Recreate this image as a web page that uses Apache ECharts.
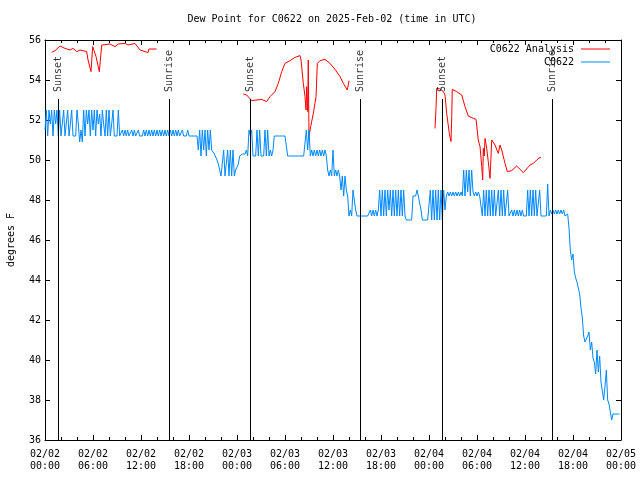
<!DOCTYPE html>
<html>
<head>
<meta charset="utf-8">
<script src="https://cdn.jsdelivr.net/npm/echarts@6/dist/echarts.min.js"></script>
<style>html,body{margin:0;padding:0;background:#fff}#c{width:640px;height:480px}</style>
</head>
<body>
<div id="c"></div>
<script>
// ---- Data ----
// x positions are hours since 02/02 00:00 UTC
const xTickLabels = ['02/02\n00:00','02/02\n06:00','02/02\n12:00','02/02\n18:00','02/03\n00:00','02/03\n06:00','02/03\n12:00','02/03\n18:00','02/04\n00:00','02/04\n06:00','02/04\n12:00','02/04\n18:00','02/05\n00:00'];

// Observations (C0622), one value every 10 minutes
const obsStartHour = 0;
const obsStepMinutes = 10;
const obsDay1 = [
 51.5,52.5,51.2,52.5,51.8,52.5, 51.2,52.5,51.8,52.5,51.2,52.5, 51.2,51.2,52.5,51.2,51.2,52.5, 51.2,51.8,52.5,51.2,51.2,51.2,
 52.5,51.8,50.9,51.5,50.9,52.5, 51.2,52.5,51.8,52.5,51.2,52.5, 51.5,52.5,51.2,52.5,51.8,52.3, 51.2,52.5,51.8,51.2,52.5,51.2,
 52.5,51.2,51.8,52.5,51.2,51.2, 51.2,52.5,51.2,51.2,51.5,51.2, 51.5,51.2,51.5,51.2,51.2,51.5, 51.2,51.5,51.2,51.2,51.5,51.2,
 51.2,51.2,51.5,51.2,51.5,51.2, 51.5,51.2,51.5,51.2,51.5,51.2, 51.5,51.2,51.5,51.2,51.5,51.2, 51.5,51.2,51.5,51.2,51.5,51.2,
 51.5,51.2,51.5,51.2,51.5,51.2, 51.2,51.5,51.2,51.2,51.2,51.5, 51.2,51.2,51.2,51.2,51.2,51.2, 51.2,50.5,51.5,50.2,51.5,50.5,
 51.5,50.2,51.5,50.5,51.5,50.5, 50.5,50.3,50.2,50.0,49.8,49.5, 49.2,49.2,50.5,49.2,49.2,50.5, 49.2,50.5,49.2,50.5,49.2,49.5
];
const obsDay2 = [
 49.5,49.8,50.2,50.3,50.3,50.3, 50.3,50.5,50.2,51.5,51.2,51.5, 50.2,50.2,50.2,51.5,50.2,51.5, 50.2,50.2,50.2,51.5,50.2,51.5,
 50.2,50.5,50.2,50.5,51.2,51.2, 51.2,51.2,51.2,51.2,51.2,51.2, 51.2,51.2,50.2,50.2,50.2,50.2, 50.2,50.2,50.2,50.2,50.2,50.2,
 50.2,50.2,50.2,50.2,51.5,50.5, 51.5,50.2,50.5,50.2,50.5,50.2, 50.5,50.2,50.5,50.2,50.5,50.2, 50.5,50.2,49.5,49.2,49.5,49.2,
 50.5,49.2,49.5,49.2,49.5,49.2, 48.5,49.2,48.2,49.2,48.5,48.2, 47.2,47.5,47.2,48.5,48.5,47.5, 47.2,47.2,47.2,47.2,47.2,47.2,
 47.2,47.2,47.2,47.2,47.5,47.2, 47.5,47.2,47.5,47.2,47.5,48.5, 47.2,48.5,47.2,48.5,47.2,48.5, 47.5,48.5,47.2,48.5,47.2,48.5,
 47.2,48.5,47.2,48.5,47.2,48.5, 47.2,47.0,47.0,47.0,47.0,47.0, 48.2,48.2,48.2,48.5,48.2,48.2, 47.5,47.0,47.0,47.0,47.0,47.0
];
const obsDay3 = [
 47.0,48.5,47.0,48.5,47.0,48.5, 47.0,48.5,47.0,48.5,47.0,48.5, 47.5,48.2,48.4,48.2,48.4,48.2, 48.4,48.2,48.4,48.2,48.4,48.2,
 48.4,48.2,49.5,48.2,49.5,48.4, 49.5,48.2,49.5,48.4,48.2,48.4, 48.2,48.4,48.2,48.2,47.2,48.5, 47.2,48.5,47.2,48.5,47.2,48.5,
 47.2,48.5,47.2,47.2,48.5,47.2, 48.5,47.2,48.5,47.2,47.2,48.5, 47.2,47.2,47.5,47.2,47.5,47.2, 47.5,47.2,47.5,47.2,47.5,47.2,
 47.2,47.2,48.5,47.2,48.5,47.2, 48.5,47.2,48.5,47.2,47.2,48.5, 47.2,47.2,47.2,47.2,47.2,48.8, 47.2,47.5,47.3,47.5,47.3,47.5,
 47.3,47.5,47.3,47.5,47.3,47.5, 47.2,47.2,47.3,46.6,45.5,45.0, 45.3,44.4,44.1,43.9,43.9,43.3, 42.6,42.1,41.2,40.9,40.9,41.2,
 41.4,40.5,40.9,40.1,39.9,39.3, 40.5,39.4,40.2,38.9,38.9,38.0, 38.7,39.5,38.0,37.8,37.7,37.0, 37.3,37.3,37.3,37.3,37.3,37.3
];

// Analysis (C0622 Analysis): hours and values, null marks a gap
const anaHours = [
 0.84,1.25,1.88,2.5,3.13,3.5,3.96,4.38,5.21,5.38,5.75,5.96,6.16,6.38,6.79,7.09,8.13,8.75,9.16,10.0,10.38,11.25,11.88,12.88,13.0,13.96,
 null,
 24.79,25.0,25.21,25.84,26.04,27.09,27.71,28.13,28.75,29.16,29.59,30.0,30.63,31.25,31.88,32.0,32.29,32.5,32.63,32.71,32.84,32.91,33.0,33.21,33.54,33.88,34.04,34.38,35.0,35.63,36.25,36.88,37.29,37.79,38.0,
 null,
 48.75,48.88,48.96,49.38,49.79,50.0,50.21,50.54,50.75,50.84,50.91,51.46,52.09,52.5,52.91,53.54,53.88,54.16,54.38,54.59,54.71,54.79,54.91,55.0,55.21,55.41,55.63,55.75,55.84,56.25,56.66,56.88,57.09,57.5,57.79,58.34,58.96,59.79,60.63,61.04,61.46,61.88,62.0
];
const anaValues = [
 55.38,55.47,55.7,55.58,55.5,55.58,55.42,55.5,55.42,55.0,54.42,55.67,55.7,55.17,54.42,55.75,55.8,55.67,55.8,55.83,55.75,55.83,55.5,55.37,55.55,55.55,
 null,
 53.3,53.4,53.25,52.97,53.03,53.03,52.92,53.17,53.42,53.83,54.42,54.83,54.97,55.13,55.22,55.0,53.83,53.17,52.5,53.67,52.42,55.0,51.17,51.67,52.33,53.17,54.83,54.97,55.03,54.83,54.53,54.17,53.83,53.5,53.97,
 null,
 51.58,52.63,53.58,53.55,53.42,53.25,52.33,51.33,50.92,52.17,53.53,53.42,53.25,52.67,52.2,52.08,52.03,51.0,50.67,49.67,49.0,50.58,50.2,51.08,50.6,49.92,49.08,49.0,51.0,50.75,50.33,50.75,50.5,49.83,49.42,49.47,49.7,49.37,49.75,49.83,50.0,50.13,50.13
];

// Sunset / sunrise events (hours since 02/02 00:00 UTC)
const sunHours = [1.66, 15.54, 25.71, 39.45, 49.66, 63.41];
const sunLabels = ['Sunset','Sunrise','Sunset','Sunrise','Sunset','Sunrise'];
const sunLineTop = 53.05;
const sunLabelBase = 53.4;

// ---- Build ----
const obsAll = obsDay1.concat(obsDay2, obsDay3);
const obsData = obsAll.map((v, i) => [obsStartHour + i * obsStepMinutes / 60, v]);
const anaData = anaHours.map((h, i) => (h === null ? [null, null] : [h, anaValues[i]]));
const sunPoints = sunHours.map((h, i) => ({ value: [h, sunLabelBase], name: sunLabels[i] }));
const sunLines = sunHours.map(h => [{ coord: [h, 36] }, { coord: [h, sunLineTop] }]);

const MONO = '"DejaVu Sans Mono", "Liberation Mono", monospace';
const black = '#000';
const axisCommon = {
  type: 'value',
  axisLine: { show: true, onZero: false, lineStyle: { color: black, width: 1 } },
  axisTick: { show: true, inside: true, length: 5, lineStyle: { color: black, width: 1 } },
  splitLine: { show: false }
};

const chart = echarts.init(document.getElementById('c'), null, { renderer: 'canvas' });
chart.setOption({
  animation: false,
  backgroundColor: '#fff',
  title: {
    text: 'Dew Point for C0622 on 2025-Feb-02 (time in UTC)',
    left: 332, top: 14, textAlign: 'center', padding: 0,
    textStyle: { fontFamily: MONO, fontSize: 10, fontWeight: 'normal', color: black }
  },
  grid: { left: 45, right: 19, top: 40, bottom: 40, containLabel: false, outerBoundsMode: 'none' },
  legend: [
    { right: 30, top: 44, padding: 0, align: 'right', icon: 'rect', itemWidth: 29, itemHeight: 1,
      selectedMode: false, data: ['C0622 Analysis'],
      textStyle: { fontFamily: MONO, fontSize: 10, color: black, padding: [0, 2, 0, 0] } },
    { right: 30, top: 57, padding: 0, align: 'right', icon: 'rect', itemWidth: 29, itemHeight: 1,
      selectedMode: false, data: ['C0622'],
      textStyle: { fontFamily: MONO, fontSize: 10, color: black, padding: [0, 2, 0, 0] } }
  ],
  xAxis: [
    Object.assign({}, axisCommon, {
      position: 'bottom', min: 0, max: 72, interval: 6,
      minorTick: { show: true, splitNumber: 3, length: 3, lineStyle: { color: black } },
      axisLabel: {
        show: true, margin: 8, fontFamily: MONO, fontSize: 10, color: black, lineHeight: 12,
        hideOverlap: false, showMinLabel: true, showMaxLabel: true,
        formatter: v => xTickLabels[Math.round(v / 6)]
      }
    }),
    Object.assign({}, axisCommon, {
      position: 'top', min: 0, max: 72, interval: 6,
      minorTick: { show: true, splitNumber: 3, length: 3, lineStyle: { color: black } },
      axisLabel: { show: false }
    })
  ],
  yAxis: [
    Object.assign({}, axisCommon, {
      position: 'left', min: 36, max: 56, interval: 2,
      name: 'degrees F', nameLocation: 'middle', nameGap: 29,
      nameTextStyle: { fontFamily: MONO, fontSize: 10, color: black },
      axisLabel: { show: true, margin: 4, fontFamily: MONO, fontSize: 10, color: black }
    }),
    Object.assign({}, axisCommon, {
      position: 'right', min: 36, max: 56, interval: 2,
      axisLabel: { show: false }
    })
  ],
  series: [
    {
      name: 'C0622 Analysis', type: 'line', xAxisIndex: 0, yAxisIndex: 0,
      data: anaData, showSymbol: false, symbol: 'none', connectNulls: false,
      lineStyle: { color: '#ff0000', width: 1 }, itemStyle: { color: '#ff0000' }, z: 3
    },
    {
      name: 'C0622', type: 'line', xAxisIndex: 0, yAxisIndex: 0,
      data: obsData, showSymbol: false, symbol: 'none',
      lineStyle: { color: '#0088ff', width: 1 }, itemStyle: { color: '#0088ff' }, z: 4
    },
    {
      name: 'sun', type: 'scatter', xAxisIndex: 0, yAxisIndex: 0,
      data: sunPoints, symbolSize: 0, silent: true, z: 5,
      label: {
        show: true, position: 'inside', rotate: 90, align: 'left', verticalAlign: 'middle',
        formatter: p => p.name, fontFamily: MONO, fontSize: 10, color: black
      },
      markLine: {
        silent: true, symbol: ['none', 'none'], animation: false,
        label: { show: false },
        lineStyle: { color: black, width: 1, type: 'solid' },
        data: sunLines
      }
    }
  ]
});
</script>
</body>
</html>
